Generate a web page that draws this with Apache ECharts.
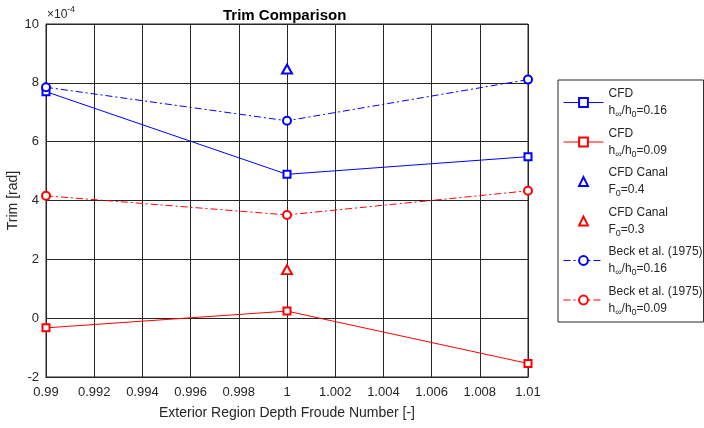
<!DOCTYPE html>
<html>
<head>
<meta charset="utf-8">
<script src="https://cdn.jsdelivr.net/npm/echarts@6/dist/echarts.min.js"></script>
<style>
  html, body { margin: 0; padding: 0; background: #fff; }
  #chart { width: 704px; height: 428px; }
</style>
</head>
<body>
<div id="chart"></div>
<script>
// trim values are in units of 1e-4 rad
const froude = [0.99, 1.0, 1.01];
const cfd016 = [7.7, 4.89, 5.49];
const cfd009 = [-0.33, 0.24, -1.54];
const canalF = [1.0];
const canal04 = [8.47];
const canal03 = [1.65];
const beck016 = [7.85, 6.71, 8.11];
const beck009 = [4.16, 3.51, 4.33];

const seriesNames = ['cfd016', 'cfd009', 'canal04', 'canal03', 'beck016', 'beck009'];
const legendLabels = {
  cfd016: '{t|CFD}\n{t|h}{s|∞}{t|/h}{s|0}{t|=0.16}',
  cfd009: '{t|CFD}\n{t|h}{s|∞}{t|/h}{s|0}{t|=0.09}',
  canal04: '{t|CFD Canal}\n{t|F}{s|0}{t|=0.4}',
  canal03: '{t|CFD Canal}\n{t|F}{s|0}{t|=0.3}',
  beck016: '{t|Beck et al. (1975)}\n{t|h}{s|∞}{t|/h}{s|0}{t|=0.16}',
  beck009: '{t|Beck et al. (1975)}\n{t|h}{s|∞}{t|/h}{s|0}{t|=0.09}'
};

const BLUE = '#0000ff', RED = '#ff0000', INK = '#262626';
const FONT = '"Liberation Sans", Arial, Helvetica, sans-serif';
const dashDot = [7, 3, 2, 3];

const pairs = (xs, ys) => ys.map((y, i) => [xs[i], y]);

const chart = echarts.init(document.getElementById('chart'));

function lineSeries(name, xs, ys, color, symbol, size, lineType) {
  return {
    name: name,
    type: 'line',
    data: pairs(xs, ys),
    symbol: symbol,
    symbolSize: size,
    color: color,
    lineStyle: lineType === 'none'
      ? { color: color, width: 0, opacity: 0 }
      : { color: color, width: 1, type: lineType },
    itemStyle: { color: color, borderColor: color, borderWidth: 1 },
    emphasis: { disabled: true },
    animation: false
  };
}

const seriesColors = { cfd016: BLUE, cfd009: RED, canal04: BLUE, canal03: RED, beck016: BLUE, beck009: RED };

let option = {
  backgroundColor: '#fff',
  textStyle: { fontFamily: FONT },
  title: {
    text: 'Trim Comparison',
    left: 218,
    top: 3,
    textStyle: { fontSize: 15, fontWeight: 'bold', color: '#000', fontFamily: FONT }
  },
  grid: {
    left: 46, right: 176, top: 24, bottom: 51,
    outerBoundsMode: 'none',
    containLabel: false,
    show: true, borderColor: INK, borderWidth: 1, backgroundColor: 'transparent'
  },
  legend: {
    orient: 'vertical',
    left: 558,
    top: 80,
    padding: [8, 1, 5, 5],
    itemWidth: 40,
    itemHeight: 11,
    itemGap: 8,
    borderColor: INK,
    borderWidth: 1,
    data: seriesNames.map(n => ({
      name: n,
      itemStyle: { borderColor: seriesColors[n], borderWidth: 1 },
      lineStyle: { color: seriesColors[n], width: 1 }
    })),
    formatter: name => legendLabels[name],
    textStyle: {
      color: INK,
      rich: {
        t: { fontSize: 12, lineHeight: 17, color: INK, fontFamily: FONT },
        s: { fontSize: 9, lineHeight: 10, verticalAlign: 'bottom', color: INK, fontFamily: FONT }
      }
    }
  },
  xAxis: {
    type: 'value',
    min: 0.99,
    max: 1.01,
    interval: 0.002,
    name: 'Exterior Region Depth Froude Number [-]',
    nameLocation: 'middle',
    nameGap: 29,
    nameMoveOverlap: false,
    nameTextStyle: { fontSize: 14, color: INK, fontFamily: FONT },
    axisLine: { show: true, onZero: false, lineStyle: { color: INK } },
    axisTick: { show: false },
    axisLabel: {
      color: INK, fontSize: 13, margin: 9, fontFamily: FONT,
      formatter: v => String(parseFloat(v.toFixed(3)))
    },
    splitLine: { show: true, lineStyle: { color: INK, width: 1 } }
  },
  yAxis: {
    type: 'value',
    min: -2,
    max: 10,
    interval: 2,
    name: 'Trim [rad]',
    nameLocation: 'middle',
    nameGap: 26,
    nameMoveOverlap: false,
    nameTextStyle: { fontSize: 14, color: INK, fontFamily: FONT },
    axisLine: { show: true, onZero: false, lineStyle: { color: INK } },
    axisTick: { show: false },
    axisLabel: { color: INK, fontSize: 13, margin: 7, fontFamily: FONT },
    splitLine: { show: true, lineStyle: { color: INK, width: 1 } }
  },
  graphic: [
    { type: 'text', left: 47, top: 9, style: { text: '×10', fontSize: 12, fill: INK, fontFamily: FONT } },
    { type: 'text', left: 67, top: 5, style: { text: '-4', fontSize: 9, fill: INK, fontFamily: FONT } }
  ],
  series: [
    lineSeries('cfd016', froude, cfd016, BLUE, 'emptyRect', 7, 'solid'),
    lineSeries('cfd009', froude, cfd009, RED, 'emptyRect', 7, 'solid'),
    lineSeries('canal04', canalF, canal04, BLUE, 'emptyTriangle', [10, 9], 'none'),
    lineSeries('canal03', canalF, canal03, RED, 'emptyTriangle', [10, 9], 'none'),
    lineSeries('beck016', froude, beck016, BLUE, 'emptyCircle', 8, dashDot),
    lineSeries('beck009', froude, beck009, RED, 'emptyCircle', 8, dashDot)
  ]
};
chart.setOption(option);
</script>
</body>
</html>
